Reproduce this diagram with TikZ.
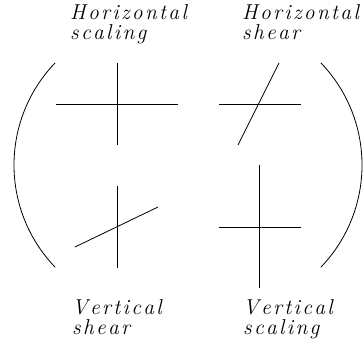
\documentclass[tikz,border=0pt]{standalone}
\usepackage{fontspec}
\makeatletter
\newcommand{\spacedtxt}[1]{\spaced@loop#1\@nil}
\def\spaced@loop#1#2\@nil{#1\ifx\relax#2\relax\else\kern2.3pt\spaced@loop#2\@nil\fi}
\makeatother
\newcommand{\lbltext}[1]{{\itshape\fontsize{21.5}{24}\selectfont\spacedtxt{#1}}}
\begin{document}
\begin{tikzpicture}[x=1pt,y=1pt,
  stroke/.style={line width=0.8pt, black},
  lbl/.style={anchor=base west, inner sep=0pt}]
\useasboundingbox (0,0) rectangle (363,349);
% labels
\node[lbl] (hs1)  at (70,329) {\lbltext{Horizontal}};
\node[lbl] (hs2)  at (70,309) {\lbltext{scaling}};
\node[lbl] (hsh1) at (242,329) {\lbltext{Horizontal}};
\node[lbl] (hsh2) at (242,309) {\lbltext{shear}};
\node[lbl] (vsh1) at (72,35) {\lbltext{Vertical}};
\node[lbl] (vsh2) at (72,14.5) {\lbltext{shear}};
\node[lbl] (vs1)  at (243,35) {\lbltext{Vertical}};
\node[lbl] (vs2)  at (243,14.5) {\lbltext{scaling}};
% brackets
\draw[stroke] (55,286) arc[start angle=136.2, end angle=223.8, radius=147.4];
\draw[stroke] (321,286) arc[start angle=43.8, end angle=-43.8, radius=147.4];
% horizontal scaling
\coordinate (a1) at (56,245); \coordinate (a2) at (178,245);
\coordinate (a3) at (117,286); \coordinate (a4) at (117,204);
\draw[stroke] (a1) -- (a2); \draw[stroke] (a3) -- (a4);
% horizontal shear
\coordinate (b1) at (219,245); \coordinate (b2) at (301,245);
\coordinate (b3) at (279,286); \coordinate (b4) at (238,204);
\draw[stroke] (b1) -- (b2); \draw[stroke] (b3) -- (b4);
% vertical shear
\coordinate (c1) at (117,163); \coordinate (c2) at (117,81);
\coordinate (c3) at (75,102); \coordinate (c4) at (158,142);
\draw[stroke] (c1) -- (c2); \draw[stroke] (c3) -- (c4);
% vertical scaling
\coordinate (d1) at (219,122); \coordinate (d2) at (301,122);
\coordinate (d3) at (259,184); \coordinate (d4) at (259,61);
\draw[stroke] (d1) -- (d2); \draw[stroke] (d3) -- (d4);
\end{tikzpicture}
\end{document}
